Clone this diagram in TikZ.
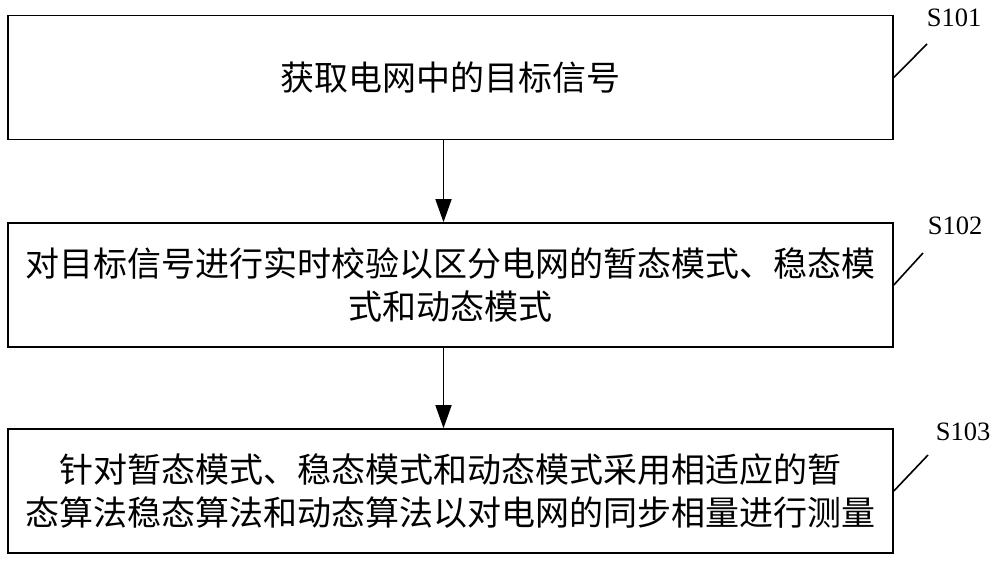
\documentclass[tikz,border=0pt]{standalone}
\usepackage{fontspec}
\setmainfont{Liberation Serif}
\newfontfamily\cjk{Noto Sans CJK SC}
\usetikzlibrary{arrows.meta}
\begin{document}
\begin{tikzpicture}[x=1pt,y=-1pt,
  stepbox/.style={draw,line width=1.6pt,minimum width=885pt,minimum height=124pt,inner sep=0pt,align=center,font=\cjk\fontsize{34}{43}\selectfont},
  lbl/.style={font=\fontsize{26.5}{28}\selectfont,inner sep=0pt},
  lead/.style={line width=1.6pt},
  arr/.style={line width=1.6pt,-{Triangle[length=23pt,width=16pt]}}]
\useasboundingbox (0,0) rectangle (1000,563);
\node[stepbox] (b1) at (450.5,77.5) {获取电网中的目标信号};
\node[stepbox] (b2) at (450.5,285) {对目标信号进行实时校验以区分电网的暂态模式、稳态模\\式和动态模式};
\node[stepbox] (b3) at (450.5,491) {针对暂态模式、稳态模式和动态模式采用相适应的暂\\态算法稳态算法和动态算法以对电网的同步相量进行测量};
\node[lbl] (s1) at (954,18) {S101};
\node[lbl] (s2) at (955,226) {S102};
\node[lbl] (s3) at (963,432) {S103};
\coordinate (e1) at (927,44);
\coordinate (e2) at (923,253);
\coordinate (e3) at (928,455);
\draw[lead] (b1.east) -- (e1);
\draw[lead] (b2.east) -- (e2);
\draw[lead] (b3.east) -- (e3);
\draw[arr] ([xshift=-7pt]b1.south) -- ([xshift=-7pt]b2.north);
\draw[arr] ([xshift=-7pt]b2.south) -- ([xshift=-7pt]b3.north);
\end{tikzpicture}
\end{document}
